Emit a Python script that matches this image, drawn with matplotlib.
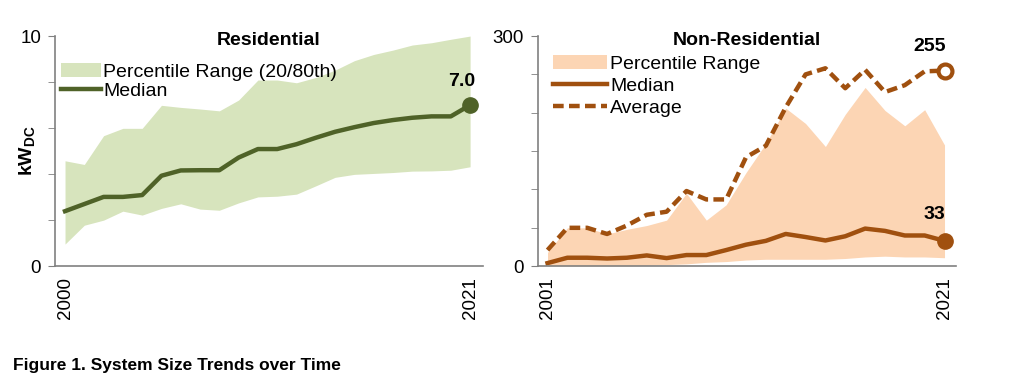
import matplotlib
matplotlib.use("Agg")
import matplotlib.pyplot as plt
from matplotlib.patches import Patch
from matplotlib.lines import Line2D

plt.rcParams['font.family'] = ['Liberation Sans', 'DejaVu Sans']
plt.rcParams['mathtext.fontset'] = 'custom'
plt.rcParams['mathtext.bf'] = 'Liberation Sans:bold'
plt.rcParams['mathtext.rm'] = 'Liberation Sans'

#Residential data (kW DC)
res_years = list(range(2000, 2022))
res_median = [2.39, 2.70, 3.01, 3.01, 3.09, 3.93, 4.16, 4.17, 4.17, 4.72, 5.09,
              5.09, 5.30, 5.58, 5.84, 6.04, 6.22, 6.35, 6.45, 6.51, 6.51, 7.0]
res_p80 = [4.58, 4.42, 5.67, 5.99, 5.99, 6.99, 6.90, 6.83, 6.75, 7.22, 8.09,
           8.09, 7.97, 8.20, 8.52, 8.93, 9.20, 9.39, 9.61, 9.71, 9.86, 10.0]
res_p20 = [0.96, 1.78, 2.00, 2.39, 2.22, 2.51, 2.71, 2.48, 2.43, 2.75, 3.01,
           3.04, 3.13, 3.49, 3.86, 3.99, 4.03, 4.07, 4.13, 4.14, 4.17, 4.32]

#Non-residential data (kW DC)
nr_years = list(range(2001, 2022))
nr_median = [4, 11, 11, 10, 11, 14, 10.5, 14.5, 14.5, 21, 28,
             33, 42, 38, 33.5, 39, 49, 46, 40, 40, 33]
nr_average = [21, 50, 50, 42, 53, 67, 71, 98, 87, 87, 142,
              157, 207, 250, 258, 232, 256, 227, 236, 254, 255]
nr_p80 = [18, 50, 50, 42, 48, 53, 60, 95, 60, 80, 122,
          160, 206, 186, 156, 198, 233, 203, 183, 204, 158]
nr_p20 = [0.5, 0.5, 0.5, 0.5, 0.5, 1, 2, 3, 5, 6, 8,
          9, 9, 9, 9, 10, 12, 13, 12, 12, 11]

green_fill = '#d7e4bd'
green_line = '#4f6228'
orange_fill = '#fcd5b4'
brown_line = '#a0500f'
spine_col = '#808080'
avg_dash = (2.4, 1.2)

fig = plt.figure(figsize=(10.24, 3.92), dpi=100)
ax1 = fig.add_axes([0.0537, 0.321, 0.418, 0.587])
ax2 = fig.add_axes([0.525, 0.321, 0.409, 0.587])

def style_axis(ax, ymax, ystep, xfirst, xlast):
    for s in ['top', 'right']:
        ax.spines[s].set_visible(False)
    for s in ['left', 'bottom']:
        ax.spines[s].set_color(spine_col)
        ax.spines[s].set_linewidth(1.2)
    ax.set_ylim(0, ymax)
    ax.set_yticks([0, ymax])
    ax.set_yticklabels(['0', str(ymax)])
    ax.set_yticks(list(range(ystep, ymax, ystep)), minor=True)
    ax.tick_params(axis='y', which='both', direction='out', length=5,
                   color=spine_col, labelsize=13.5, pad=5)
    ax.set_xticks([xfirst, xlast])
    ax.set_xticklabels([str(xfirst), str(xlast)], rotation=90)
    ax.tick_params(axis='x', length=0, labelsize=13.5, pad=8)

#Residential panel
ax1.fill_between(res_years, res_p20, res_p80, color=green_fill, lw=0)
ax1.plot(res_years, res_median, color=green_line, lw=3.2)
ax1.plot(res_years[-1], res_median[-1], 'o', color=green_line, markersize=11)
ax1.annotate('{:.1f}'.format(res_median[-1]), (res_years[-1], res_median[-1]),
             xytext=(-6, 11), textcoords='offset points', ha='center', va='bottom',
             fontsize=14, fontweight='bold')
ax1.set_xlim(1999.48, 2021.67)
style_axis(ax1, 10, 2, 2000, 2021)
ax1.set_ylabel(r'$\mathbf{kW_{DC}}$', fontsize=14)
ax1.yaxis.set_label_coords(-0.042, 0.5)
ax1.set_title('Residential', fontsize=14, fontweight='bold', y=0.925, x=0.5)
h1 = [Patch(facecolor=green_fill, edgecolor='none'),
      Line2D([0], [0], color=green_line, lw=3.2)]
ax1.legend(h1, ['Percentile Range (20/80th)', 'Median'], loc='upper left',
           bbox_to_anchor=(-0.005, 0.915), frameon=False, fontsize=14,
           handlelength=2.1, handletextpad=0.1, labelspacing=0.05, borderaxespad=0)

#Non-residential panel
ax2.fill_between(nr_years, nr_p20, nr_p80, color=orange_fill, lw=0)
ax2.plot(nr_years, nr_median, color=brown_line, lw=3.2)
ax2.plot(nr_years, nr_average, color=brown_line, lw=3.2, dashes=avg_dash)
ax2.plot(nr_years[-1], nr_median[-1], 'o', color=brown_line, markersize=11)
ax2.plot(nr_years[-1], nr_average[-1], 'o', color=brown_line, markerfacecolor='white',
         markeredgewidth=3, markersize=10)
ax2.annotate(str(nr_average[-1]), (nr_years[-1], nr_average[-1]),
             xytext=(-11, 11), textcoords='offset points', ha='center', va='bottom',
             fontsize=14, fontweight='bold')
ax2.annotate(str(nr_median[-1]), (nr_years[-1], nr_median[-1]),
             xytext=(-7, 13), textcoords='offset points', ha='center', va='bottom',
             fontsize=14, fontweight='bold')
ax2.set_xlim(2000.5, 2021.6)
style_axis(ax2, 300, 50, 2001, 2021)
ax2.set_title('Non-Residential', fontsize=14, fontweight='bold', y=0.925, x=0.5)
h2 = [Patch(facecolor=orange_fill, edgecolor='none'),
      Line2D([0], [0], color=brown_line, lw=3.2),
      Line2D([0], [0], color=brown_line, lw=3.2, dashes=avg_dash)]
ax2.legend(h2, ['Percentile Range', 'Median', 'Average'], loc='upper left',
           bbox_to_anchor=(0.018, 0.95), frameon=False, fontsize=14,
           handlelength=2.8, handletextpad=0.15, labelspacing=0.22, borderaxespad=0)

fig.text(0.013, 0.068, 'Figure 1. System Size Trends over Time', fontsize=12.5,
         fontweight='bold', family=['Liberation Sans Narrow', 'Liberation Sans'],
         va='center', ha='left')

fig.savefig('out.png', dpi=100)
